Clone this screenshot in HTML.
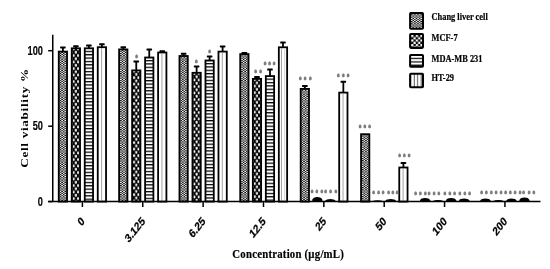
<!DOCTYPE html>
<html><head><meta charset="utf-8"><style>
html,body{margin:0;padding:0;background:#fff;}
svg{display:block;}
.n{font-family:"Liberation Sans",Arial,sans-serif;font-weight:bold;stroke:#000;stroke-width:0.12px;}
.s{font-family:"Liberation Serif","Times New Roman",serif;font-weight:bold;stroke:#000;stroke-width:0.2px;}
.a{font-family:"Liberation Sans",Arial,sans-serif;font-weight:bold;font-size:7px;fill:#7d7d7d;stroke:#7d7d7d;stroke-width:0.8px;}
</style></head><body>
<svg width="550" height="269" viewBox="0 0 550 269">
<defs>
<pattern id="pChang" patternUnits="userSpaceOnUse" x="1.9" width="3.12" height="2.24">
<rect width="3.12" height="2.24" fill="#fff"/>
<rect x="0" y="0" width="1.56" height="1.12" fill="#000"/>
<rect x="1.56" y="1.12" width="1.56" height="1.12" fill="#000"/>
</pattern>
<pattern id="pMCF" patternUnits="userSpaceOnUse" x="1.75" y="0" width="4.4" height="6.5">
<rect width="4.4" height="6.5" fill="#000"/>
<rect x="0.1" y="0.15" width="2" height="2.95" rx="0.7" fill="#fff"/>
<rect x="2.3" y="3.4" width="2" height="2.95" rx="0.7" fill="#fff"/>
</pattern>
<pattern id="pMDA" patternUnits="userSpaceOnUse" width="3.36" height="3.36">
<rect width="3.36" height="3.36" fill="#fff"/>
<rect x="0" y="0" width="3.36" height="1.25" fill="#000"/>
</pattern>
<pattern id="pHTleg" patternUnits="userSpaceOnUse" x="2.2" width="3.45" height="3.45">
<rect width="3.45" height="3.45" fill="#fff"/>
<rect x="2.45" y="0" width="1" height="3.45" fill="#555"/>
</pattern>
<pattern id="pMCFleg" patternUnits="userSpaceOnUse" x="2" y="1.9" width="4.6" height="4.6">
<rect width="4.6" height="4.6" fill="#000"/>
<rect x="0" y="0" width="2.4" height="2.4" rx="0.7" fill="#fff"/>
<rect x="2.3" y="2.3" width="2.4" height="2.4" rx="0.7" fill="#fff"/>
</pattern>
<pattern id="pMDAleg" patternUnits="userSpaceOnUse" x="0" y="2" width="3.3" height="3.3">
<rect width="3.3" height="3.3" fill="#fff"/>
<rect x="0" y="2.1" width="3.3" height="1.2" fill="#000"/>
</pattern>
</defs>

<line x1="62.90" y1="47.40" x2="62.90" y2="51.70" stroke="#000" stroke-width="1.8"/>
<rect x="60.10" y="46.40" width="5.6" height="2" rx="0.6" fill="#000"/>
<g transform="translate(57.85,50.70)"><rect x="0.9" y="0.9" width="8.30" height="150.00" fill="url(#pChang)" stroke="#000" stroke-width="1.8"/></g>
<line x1="75.90" y1="46.30" x2="75.90" y2="48.40" stroke="#000" stroke-width="1.8"/>
<rect x="73.10" y="45.30" width="5.6" height="2" rx="0.6" fill="#000"/>
<g transform="translate(70.85,47.40)"><rect x="0.9" y="0.9" width="8.30" height="153.30" fill="url(#pMCF)" stroke="#000" stroke-width="1.8"/></g>
<line x1="88.90" y1="45.50" x2="88.90" y2="48.40" stroke="#000" stroke-width="1.8"/>
<rect x="86.10" y="44.50" width="5.6" height="2" rx="0.6" fill="#000"/>
<g transform="translate(83.85,47.40)"><rect x="0.9" y="0.9" width="8.30" height="153.30" fill="url(#pMDA)" stroke="#000" stroke-width="1.8"/></g>
<line x1="101.90" y1="44.30" x2="101.90" y2="47.30" stroke="#000" stroke-width="1.8"/>
<rect x="99.10" y="43.30" width="5.6" height="2" rx="0.6" fill="#000"/>
<g transform="translate(96.85,46.30)"><rect x="0.9" y="0.9" width="8.30" height="154.40" fill="#fff" stroke="#000" stroke-width="1.8"/></g>
<line x1="101.60" y1="48.10" x2="101.60" y2="201.60" stroke="#999" stroke-width="0.9"/>
<line x1="123.26" y1="47.30" x2="123.26" y2="49.50" stroke="#000" stroke-width="1.8"/>
<rect x="120.46" y="46.30" width="5.6" height="2" rx="0.6" fill="#000"/>
<g transform="translate(118.21,48.50)"><rect x="0.9" y="0.9" width="8.30" height="152.20" fill="url(#pChang)" stroke="#000" stroke-width="1.8"/></g>
<line x1="136.26" y1="61.60" x2="136.26" y2="70.50" stroke="#000" stroke-width="1.8"/>
<rect x="133.46" y="60.60" width="5.6" height="2" rx="0.6" fill="#000"/>
<g transform="translate(131.21,69.50)"><rect x="0.9" y="0.9" width="8.30" height="131.20" fill="url(#pMCF)" stroke="#000" stroke-width="1.8"/></g>
<line x1="149.26" y1="49.60" x2="149.26" y2="57.60" stroke="#000" stroke-width="1.8"/>
<rect x="146.46" y="48.60" width="5.6" height="2" rx="0.6" fill="#000"/>
<g transform="translate(144.21,56.60)"><rect x="0.9" y="0.9" width="8.30" height="144.10" fill="url(#pMDA)" stroke="#000" stroke-width="1.8"/></g>
<rect x="159.46" y="50.20" width="5.6" height="2" rx="0.6" fill="#000"/>
<g transform="translate(157.21,51.60)"><rect x="0.9" y="0.9" width="8.30" height="149.10" fill="#fff" stroke="#000" stroke-width="1.8"/></g>
<line x1="161.96" y1="53.40" x2="161.96" y2="201.60" stroke="#999" stroke-width="0.9"/>
<line x1="183.62" y1="53.80" x2="183.62" y2="56.10" stroke="#000" stroke-width="1.8"/>
<rect x="180.82" y="52.80" width="5.6" height="2" rx="0.6" fill="#000"/>
<g transform="translate(178.57,55.10)"><rect x="0.9" y="0.9" width="8.30" height="145.60" fill="url(#pChang)" stroke="#000" stroke-width="1.8"/></g>
<line x1="196.62" y1="66.40" x2="196.62" y2="72.90" stroke="#000" stroke-width="1.8"/>
<rect x="193.82" y="65.40" width="5.6" height="2" rx="0.6" fill="#000"/>
<g transform="translate(191.57,71.90)"><rect x="0.9" y="0.9" width="8.30" height="128.80" fill="url(#pMCF)" stroke="#000" stroke-width="1.8"/></g>
<line x1="209.62" y1="56.40" x2="209.62" y2="60.60" stroke="#000" stroke-width="1.8"/>
<rect x="206.82" y="55.40" width="5.6" height="2" rx="0.6" fill="#000"/>
<g transform="translate(204.57,59.60)"><rect x="0.9" y="0.9" width="8.30" height="141.10" fill="url(#pMDA)" stroke="#000" stroke-width="1.8"/></g>
<line x1="222.62" y1="46.40" x2="222.62" y2="51.70" stroke="#000" stroke-width="1.8"/>
<rect x="219.82" y="45.40" width="5.6" height="2" rx="0.6" fill="#000"/>
<g transform="translate(217.57,50.70)"><rect x="0.9" y="0.9" width="8.30" height="150.00" fill="#fff" stroke="#000" stroke-width="1.8"/></g>
<line x1="222.32" y1="52.50" x2="222.32" y2="201.60" stroke="#999" stroke-width="0.9"/>
<rect x="241.58" y="52.00" width="5.6" height="2" rx="0.6" fill="#000"/>
<g transform="translate(239.33,53.20)"><rect x="0.9" y="0.9" width="8.30" height="147.50" fill="url(#pChang)" stroke="#000" stroke-width="1.8"/></g>
<line x1="256.98" y1="77.00" x2="256.98" y2="79.00" stroke="#000" stroke-width="1.8"/>
<rect x="254.18" y="76.00" width="5.6" height="2" rx="0.6" fill="#000"/>
<g transform="translate(251.93,78.00)"><rect x="0.9" y="0.9" width="8.30" height="122.70" fill="url(#pMCF)" stroke="#000" stroke-width="1.8"/></g>
<line x1="269.98" y1="69.60" x2="269.98" y2="76.20" stroke="#000" stroke-width="1.8"/>
<rect x="267.18" y="68.60" width="5.6" height="2" rx="0.6" fill="#000"/>
<g transform="translate(264.93,75.20)"><rect x="0.9" y="0.9" width="8.30" height="125.50" fill="url(#pMDA)" stroke="#000" stroke-width="1.8"/></g>
<line x1="282.98" y1="42.60" x2="282.98" y2="47.40" stroke="#000" stroke-width="1.8"/>
<rect x="280.18" y="41.60" width="5.6" height="2" rx="0.6" fill="#000"/>
<g transform="translate(277.93,46.40)"><rect x="0.9" y="0.9" width="8.30" height="154.30" fill="#fff" stroke="#000" stroke-width="1.8"/></g>
<line x1="281.48" y1="48.20" x2="281.48" y2="201.60" stroke="#999" stroke-width="0.9"/>
<line x1="284.68" y1="48.20" x2="284.68" y2="201.60" stroke="#ccc" stroke-width="0.9"/>
<line x1="304.84" y1="86.00" x2="304.84" y2="89.00" stroke="#000" stroke-width="1.8"/>
<rect x="302.04" y="85.00" width="5.6" height="2" rx="0.6" fill="#000"/>
<g transform="translate(299.79,88.00)"><rect x="0.9" y="0.9" width="8.30" height="112.70" fill="url(#pChang)" stroke="#000" stroke-width="1.8"/></g>
<path d="M312.29,201.6 L312.29,199.76 Q313.29,197.00 317.34,197.00 Q321.39,197.00 322.39,199.76 L322.39,201.6 Z" fill="#000"/>
<path d="M325.29,201.6 L325.29,200.56 Q326.29,199.00 330.34,199.00 Q334.39,199.00 335.39,200.56 L335.39,201.6 Z" fill="#000"/>
<line x1="343.34" y1="81.80" x2="343.34" y2="92.70" stroke="#000" stroke-width="1.8"/>
<rect x="340.54" y="80.80" width="5.6" height="2" rx="0.6" fill="#000"/>
<g transform="translate(338.29,91.70)"><rect x="0.9" y="0.9" width="8.30" height="109.00" fill="#fff" stroke="#000" stroke-width="1.8"/></g>
<line x1="343.04" y1="93.50" x2="343.04" y2="201.60" stroke="#999" stroke-width="0.9"/>
<g transform="translate(360.15,133.30)"><rect x="0.9" y="0.9" width="8.30" height="67.40" fill="url(#pChang)" stroke="#000" stroke-width="1.8"/></g>
<path d="M372.65,201.6 L372.65,201.04 Q373.65,200.20 377.70,200.20 Q381.75,200.20 382.75,201.04 L382.75,201.6 Z" fill="#000"/>
<path d="M385.65,201.6 L385.65,200.60 Q386.65,199.10 390.70,199.10 Q394.75,199.10 395.75,200.60 L395.75,201.6 Z" fill="#000"/>
<line x1="403.40" y1="162.90" x2="403.40" y2="167.60" stroke="#000" stroke-width="1.8"/>
<rect x="400.60" y="161.90" width="5.6" height="2" rx="0.6" fill="#000"/>
<g transform="translate(398.35,166.60)"><rect x="0.9" y="0.9" width="8.30" height="34.10" fill="#fff" stroke="#000" stroke-width="1.8"/></g>
<line x1="403.10" y1="168.40" x2="403.10" y2="201.60" stroke="#999" stroke-width="0.9"/>
<path d="M420.01,201.6 L420.01,200.16 Q421.01,198.00 425.06,198.00 Q429.11,198.00 430.11,200.16 L430.11,201.6 Z" fill="#000"/>
<path d="M433.01,201.6 L433.01,200.96 Q434.01,200.00 438.06,200.00 Q442.11,200.00 443.11,200.96 L443.11,201.6 Z" fill="#000"/>
<path d="M446.01,201.6 L446.01,200.16 Q447.01,198.00 451.06,198.00 Q455.11,198.00 456.11,200.16 L456.11,201.6 Z" fill="#000"/>
<path d="M459.01,201.6 L459.01,200.36 Q460.01,198.50 464.06,198.50 Q468.11,198.50 469.11,200.36 L469.11,201.6 Z" fill="#000"/>
<path d="M480.37,201.6 L480.37,200.40 Q481.37,198.60 485.42,198.60 Q489.47,198.60 490.47,200.40 L490.47,201.6 Z" fill="#000"/>
<path d="M493.37,201.6 L493.37,200.96 Q494.37,200.00 498.42,200.00 Q502.47,200.00 503.47,200.96 L503.47,201.6 Z" fill="#000"/>
<path d="M506.37,201.6 L506.37,200.40 Q507.37,198.60 511.42,198.60 Q515.47,198.60 516.47,200.40 L516.47,201.6 Z" fill="#000"/>
<path d="M519.37,201.6 L519.37,199.96 Q520.37,197.50 524.42,197.50 Q528.47,197.50 529.47,199.96 L529.47,201.6 Z" fill="#000"/>
<line x1="52.75" y1="34.8" x2="52.75" y2="201.6" stroke="#000" stroke-width="1.5"/>
<line x1="48.2" y1="201.6" x2="540.5" y2="201.6" stroke="#000" stroke-width="1.5"/>
<line x1="48.2" y1="50.7" x2="52.75" y2="50.7" stroke="#000" stroke-width="1.5"/>
<line x1="48.2" y1="126.2" x2="52.75" y2="126.2" stroke="#000" stroke-width="1.5"/>
<line x1="48.2" y1="201.6" x2="52.75" y2="201.6" stroke="#000" stroke-width="1.5"/>
<line x1="82.40" y1="201.6" x2="82.40" y2="207" stroke="#000" stroke-width="1.5"/>
<line x1="142.76" y1="201.6" x2="142.76" y2="207" stroke="#000" stroke-width="1.5"/>
<line x1="203.12" y1="201.6" x2="203.12" y2="207" stroke="#000" stroke-width="1.5"/>
<line x1="263.48" y1="201.6" x2="263.48" y2="207" stroke="#000" stroke-width="1.5"/>
<line x1="323.84" y1="201.6" x2="323.84" y2="207" stroke="#000" stroke-width="1.5"/>
<line x1="384.20" y1="201.6" x2="384.20" y2="207" stroke="#000" stroke-width="1.5"/>
<line x1="444.56" y1="201.6" x2="444.56" y2="207" stroke="#000" stroke-width="1.5"/>
<line x1="504.92" y1="201.6" x2="504.92" y2="207" stroke="#000" stroke-width="1.5"/>
<text class="n" font-size="12" transform="translate(42.9,55.00) scale(0.77,1)" text-anchor="end">100</text>
<text class="n" font-size="12" transform="translate(42.9,130.10) scale(0.77,1)" text-anchor="end">50</text>
<text class="n" font-size="12" transform="translate(42.9,205.60) scale(0.77,1)" text-anchor="end">0</text>
<text class="n" style="stroke-width:0.25px" font-size="12" transform="translate(85.30,222.1) scale(0.8,1) rotate(-45)" text-anchor="end">0</text>
<text class="n" style="stroke-width:0.25px" font-size="12" transform="translate(145.66,222.1) scale(0.8,1) rotate(-45)" text-anchor="end">3.125</text>
<text class="n" style="stroke-width:0.25px" font-size="12" transform="translate(206.02,222.1) scale(0.8,1) rotate(-45)" text-anchor="end">6.25</text>
<text class="n" style="stroke-width:0.25px" font-size="12" transform="translate(266.38,222.1) scale(0.8,1) rotate(-45)" text-anchor="end">12.5</text>
<text class="n" style="stroke-width:0.25px" font-size="12" transform="translate(326.74,222.1) scale(0.8,1) rotate(-45)" text-anchor="end">25</text>
<text class="n" style="stroke-width:0.25px" font-size="12" transform="translate(387.10,222.1) scale(0.8,1) rotate(-45)" text-anchor="end">50</text>
<text class="n" style="stroke-width:0.25px" font-size="12" transform="translate(447.46,222.1) scale(0.8,1) rotate(-45)" text-anchor="end">100</text>
<text class="n" style="stroke-width:0.25px" font-size="12" transform="translate(507.82,222.1) scale(0.8,1) rotate(-45)" text-anchor="end">200</text>
<text class="s" style="stroke:none" font-size="13.2" transform="translate(28.0,118.3) scale(0.84,1) rotate(-90)" text-anchor="middle" textLength="99" lengthAdjust="spacing">Cell viability %</text>
<text class="s" font-size="13" transform="translate(288.1,258.4) scale(0.83,1)" text-anchor="middle" textLength="134.3" lengthAdjust="spacing">Concentration (µg/mL)</text>
<g transform="translate(409.1,12.1)"><rect x="1" y="1" width="12.9" height="15.60" fill="url(#pChang)" stroke="#000" stroke-width="2" rx="0.8"/></g>
<text class="s" font-size="10" transform="translate(431.5,19.6) scale(0.84,1)">Chang liver cell</text>
<g transform="translate(409.1,32.9)"><rect x="1" y="1" width="12.9" height="14.00" fill="url(#pMCFleg)" stroke="#000" stroke-width="2" rx="0.8"/></g>
<text class="s" font-size="10" transform="translate(431.5,40.7) scale(0.84,1)">MCF-7</text>
<g transform="translate(409.1,53.9)"><rect x="1" y="1" width="12.9" height="11.90" fill="url(#pMDAleg)" stroke="#000" stroke-width="2" rx="0.8"/></g>
<text class="s" font-size="10" transform="translate(431.5,61.5) scale(0.84,1)">MDA-MB 231</text>
<g transform="translate(409.1,72.7)"><rect x="1" y="1" width="12.9" height="13.50" fill="url(#pHTleg)" stroke="#000" stroke-width="2" rx="0.8"/></g>
<text class="s" font-size="10" transform="translate(431.5,80.8) scale(0.84,1)">HT-29</text>
<g>
<text class="a" transform="translate(136.60,60.00) scale(0.8,1.15)" text-anchor="middle">*</text>
<text class="a" transform="translate(196.30,65.20) scale(0.8,1.15)" text-anchor="middle">*</text>
<text class="a" transform="translate(209.50,54.90) scale(0.8,1.15)" text-anchor="middle">*</text>
<text class="a" transform="translate(255.70,74.50) scale(0.8,1.15)" text-anchor="middle">*</text>
<text class="a" transform="translate(260.70,74.50) scale(0.8,1.15)" text-anchor="middle">*</text>
<text class="a" transform="translate(265.20,66.50) scale(0.8,1.15)" text-anchor="middle">*</text>
<text class="a" transform="translate(269.60,66.50) scale(0.8,1.15)" text-anchor="middle">*</text>
<text class="a" transform="translate(274.10,66.50) scale(0.8,1.15)" text-anchor="middle">*</text>
<text class="a" transform="translate(300.30,82.10) scale(0.8,1.15)" text-anchor="middle">*</text>
<text class="a" transform="translate(305.20,82.10) scale(0.8,1.15)" text-anchor="middle">*</text>
<text class="a" transform="translate(310.30,82.10) scale(0.8,1.15)" text-anchor="middle">*</text>
<text class="a" transform="translate(338.30,78.60) scale(0.8,1.15)" text-anchor="middle">*</text>
<text class="a" transform="translate(343.40,78.60) scale(0.8,1.15)" text-anchor="middle">*</text>
<text class="a" transform="translate(348.10,78.60) scale(0.8,1.15)" text-anchor="middle">*</text>
<text class="a" transform="translate(360.00,130.10) scale(0.8,1.15)" text-anchor="middle">*</text>
<text class="a" transform="translate(364.90,130.10) scale(0.8,1.15)" text-anchor="middle">*</text>
<text class="a" transform="translate(369.60,130.10) scale(0.8,1.15)" text-anchor="middle">*</text>
<text class="a" transform="translate(399.70,159.10) scale(0.8,1.15)" text-anchor="middle">*</text>
<text class="a" transform="translate(404.30,159.10) scale(0.8,1.15)" text-anchor="middle">*</text>
<text class="a" transform="translate(409.20,159.10) scale(0.8,1.15)" text-anchor="middle">*</text>
<text class="a" transform="translate(312.20,194.50) scale(0.8,1.15)" text-anchor="middle">*</text>
<text class="a" transform="translate(316.80,194.50) scale(0.8,1.15)" text-anchor="middle">*</text>
<text class="a" transform="translate(321.80,194.50) scale(0.8,1.15)" text-anchor="middle">*</text>
<text class="a" transform="translate(325.50,194.50) scale(0.8,1.15)" text-anchor="middle">*</text>
<text class="a" transform="translate(330.60,194.50) scale(0.8,1.15)" text-anchor="middle">*</text>
<text class="a" transform="translate(335.80,194.50) scale(0.8,1.15)" text-anchor="middle">*</text>
<text class="a" transform="translate(373.50,195.70) scale(0.8,1.15)" text-anchor="middle">*</text>
<text class="a" transform="translate(378.50,195.70) scale(0.8,1.15)" text-anchor="middle">*</text>
<text class="a" transform="translate(383.20,195.70) scale(0.8,1.15)" text-anchor="middle">*</text>
<text class="a" transform="translate(388.70,195.70) scale(0.8,1.15)" text-anchor="middle">*</text>
<text class="a" transform="translate(392.90,195.70) scale(0.8,1.15)" text-anchor="middle">*</text>
<text class="a" transform="translate(397.10,195.70) scale(0.8,1.15)" text-anchor="middle">*</text>
<text class="a" transform="translate(415.50,197.40) scale(0.8,1.15)" text-anchor="middle">*</text>
<text class="a" transform="translate(420.40,197.40) scale(0.8,1.15)" text-anchor="middle">*</text>
<text class="a" transform="translate(425.30,197.40) scale(0.8,1.15)" text-anchor="middle">*</text>
<text class="a" transform="translate(429.20,197.40) scale(0.8,1.15)" text-anchor="middle">*</text>
<text class="a" transform="translate(434.00,197.40) scale(0.8,1.15)" text-anchor="middle">*</text>
<text class="a" transform="translate(438.80,197.40) scale(0.8,1.15)" text-anchor="middle">*</text>
<text class="a" transform="translate(444.90,197.40) scale(0.8,1.15)" text-anchor="middle">*</text>
<text class="a" transform="translate(449.80,197.40) scale(0.8,1.15)" text-anchor="middle">*</text>
<text class="a" transform="translate(454.50,197.40) scale(0.8,1.15)" text-anchor="middle">*</text>
<text class="a" transform="translate(459.80,197.40) scale(0.8,1.15)" text-anchor="middle">*</text>
<text class="a" transform="translate(464.90,197.40) scale(0.8,1.15)" text-anchor="middle">*</text>
<text class="a" transform="translate(469.70,197.40) scale(0.8,1.15)" text-anchor="middle">*</text>
<text class="a" transform="translate(481.50,196.40) scale(0.8,1.15)" text-anchor="middle">*</text>
<text class="a" transform="translate(486.40,196.40) scale(0.8,1.15)" text-anchor="middle">*</text>
<text class="a" transform="translate(491.30,196.40) scale(0.8,1.15)" text-anchor="middle">*</text>
<text class="a" transform="translate(496.00,196.40) scale(0.8,1.15)" text-anchor="middle">*</text>
<text class="a" transform="translate(501.00,196.40) scale(0.8,1.15)" text-anchor="middle">*</text>
<text class="a" transform="translate(505.60,196.40) scale(0.8,1.15)" text-anchor="middle">*</text>
<text class="a" transform="translate(510.40,196.40) scale(0.8,1.15)" text-anchor="middle">*</text>
<text class="a" transform="translate(515.00,196.40) scale(0.8,1.15)" text-anchor="middle">*</text>
<text class="a" transform="translate(520.00,196.40) scale(0.8,1.15)" text-anchor="middle">*</text>
<text class="a" transform="translate(523.50,196.40) scale(0.8,1.15)" text-anchor="middle">*</text>
<text class="a" transform="translate(529.00,196.40) scale(0.8,1.15)" text-anchor="middle">*</text>
<text class="a" transform="translate(533.80,196.40) scale(0.8,1.15)" text-anchor="middle">*</text>
</g>
</svg></body></html>
